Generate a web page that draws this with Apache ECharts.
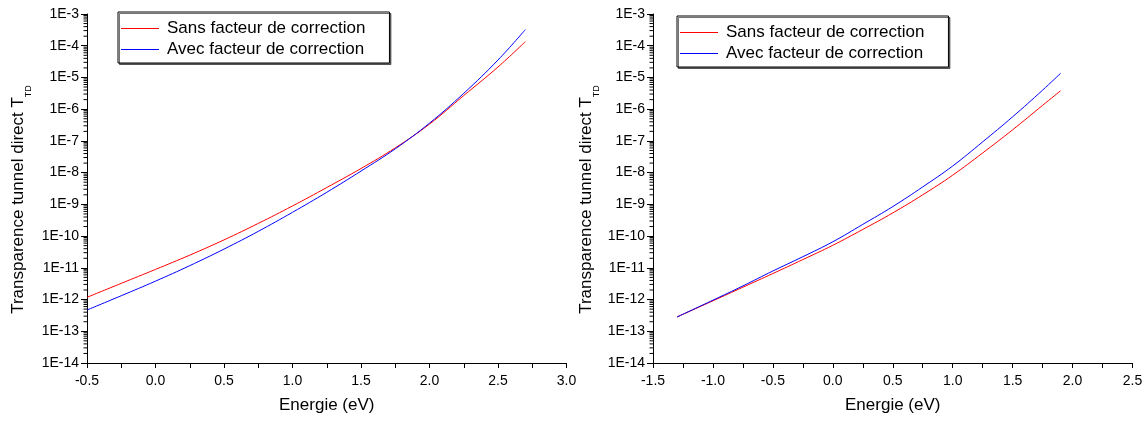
<!DOCTYPE html>
<html>
<head>
<meta charset="utf-8">
<script src="https://cdn.jsdelivr.net/npm/echarts@6/dist/echarts.min.js"></script>
<style>
html,body{margin:0;padding:0;background:#fff;}
#chart{width:1147px;height:423px;}
</style>
</head>
<body>
<div id="chart"></div>
<script>
// ---- Data ----
const seriesNames = ['Sans facteur de correction', 'Avec facteur de correction'];

// Left panel
const leftEnergy = [-0.5, -0.25, 0.0, 0.25, 0.5, 0.75, 1.0, 1.25, 1.5, 1.75, 2.0, 2.25, 2.5, 2.7];
const leftSans = [1.175e-12, 3.24e-12, 8.91e-12, 2.51e-11, 7.59e-11, 2.51e-10, 8.91e-10, 3.39e-9, 1.35e-8, 6.03e-8, 3.39e-7, 2.69e-6, 2.14e-5, 1.35e-4];
const leftAvec = [4.68e-13, 1.32e-12, 3.80e-12, 1.17e-11, 3.89e-11, 1.41e-10, 5.62e-10, 2.40e-9, 1.12e-8, 5.62e-8, 3.63e-7, 3.16e-6, 3.55e-5, 3.24e-4];

// Right panel
const rightEnergy = [-1.3, -1.0, -0.75, -0.5, -0.25, 0.0, 0.25, 0.5, 0.75, 1.0, 1.25, 1.5, 1.75, 1.9];
const rightSans = [2.82e-13, 9.12e-13, 2.45e-12, 6.61e-12, 1.82e-11, 5.13e-11, 1.62e-10, 5.37e-10, 2.00e-9, 8.32e-9, 4.17e-8, 2.24e-7, 1.32e-6, 3.80e-6];
const rightAvec = [2.82e-13, 9.55e-13, 2.69e-12, 7.94e-12, 2.24e-11, 6.61e-11, 2.34e-10, 8.51e-10, 3.55e-9, 1.62e-8, 9.33e-8, 5.75e-7, 3.98e-6, 1.35e-5];

// Axis ranges / labels
const leftXRange = [-0.5, 3.0];
const rightXRange = [-1.5, 2.5];
const yRange = [1e-14, 1e-3];
const yDecades = [-14, -3];
const logMinorSteps = [2, 3, 4, 5, 6, 7, 8, 9];
const xAxisTitle = 'Energie (eV)';
const yAxisTitleMain = 'Transparence tunnel direct T';
const yAxisTitleSub = 'TD';

// ---- Chart ----
const FONT = '"Liberation Sans", Arial, sans-serif';
const colors = ['#ff0000', '#0000ff'];

function pairs(xs, ys) { return xs.map((x, i) => [x, ys[i]]); }

// exponents of the logarithmic minor ticks (log10 of 2..9 × 10^d)
const minorTickExponents = [];
for (let d = yDecades[0]; d < yDecades[1]; d++) {
  logMinorSteps.forEach(k => minorTickExponents.push(d + Math.log10(k)));
}

function makeX(gridIndex, range) {
  return {
    type: 'value', gridIndex, min: range[0], max: range[1], interval: 0.5,
    name: xAxisTitle, nameLocation: 'middle', nameGap: 34,
    nameTextStyle: { fontFamily: FONT, fontSize: 17, color: '#000' },
    axisLine: { show: true, onZero: false, lineStyle: { color: '#000', width: 1 } },
    axisTick: { show: true, length: 5, lineStyle: { color: '#000' } },
    minorTick: { show: true, splitNumber: 2, length: 5, lineStyle: { color: '#000' } },
    splitLine: { show: false },
    axisLabel: { fontFamily: FONT, fontSize: 14, color: '#000', margin: 11,
      formatter: v => v.toFixed(1) }
  };
}

function makeY(gridIndex, gap) {
  return {
    type: 'log', logBase: 10, gridIndex, min: yRange[0], max: yRange[1], interval: 1,
    name: '{m|' + yAxisTitleMain + '}{s|' + yAxisTitleSub + '}',
    nameLocation: 'middle', nameGap: gap,
    nameTextStyle: {
      padding: [0, 22, 0, 0],
      rich: {
        m: { fontFamily: FONT, fontSize: 17, color: '#000', lineHeight: 30, verticalAlign: 'middle' },
        s: { fontFamily: FONT, fontSize: 9, color: '#000', lineHeight: 9, verticalAlign: 'bottom' }
      }
    },
    axisLine: { show: true, onZero: false, lineStyle: { color: '#000', width: 1 } },
    axisTick: { show: true, length: 6, lineStyle: { color: '#000' } },
    minorTick: { show: false },
    splitLine: { show: false },
    minorSplitLine: { show: false },
    axisLabel: { fontFamily: FONT, fontSize: 14, color: '#000', margin: 8,
      formatter: v => '1E' + Math.round(Math.log10(v)) }
  };
}

// hidden linear axis in exponent space, used only to place the log minor ticks
function makeExpY(gridIndex) {
  return {
    type: 'value', gridIndex, min: yDecades[0], max: yDecades[1], show: false,
    splitLine: { show: false }
  };
}

function makeLegend(left, top) {
  return {
    orient: 'vertical', left, top,
    data: seriesNames.map(n => ({ name: n, icon: 'rect' })),
    itemWidth: 38, itemHeight: 1, itemGap: 4,
    padding: [8, 24, 5, 3],
    borderColor: '#000', borderWidth: 1, borderRadius: 0,
    backgroundColor: '#fff',
    shadowColor: 'rgba(0,0,0,0.55)', shadowOffsetX: 1.5, shadowOffsetY: 1.5, shadowBlur: 0,
    textStyle: { fontFamily: FONT, fontSize: 17, color: '#000', lineHeight: 17, padding: [0, 0, 0, 3] },
    selectedMode: false
  };
}

function makeSeries(name, xi, data, color) {
  return {
    name, type: 'line', xAxisIndex: xi, yAxisIndex: xi, data,
    showSymbol: false, symbol: 'none', smooth: 0.4,
    lineStyle: { color, width: 1 }, itemStyle: { color },
    animation: false
  };
}

function makeMinorTicks(xi, xMin) {
  return {
    name: 'minorTicks' + xi, type: 'scatter', xAxisIndex: xi, yAxisIndex: xi + 2,
    data: minorTickExponents.map(e => [xMin, e]),
    symbol: 'rect', symbolSize: [3.5, 1], symbolOffset: [-1.75, 0],
    itemStyle: { color: '#000', opacity: 1 },
    clip: false, silent: true, z: 5, animation: false,
    emphasis: { disabled: true }, tooltip: { show: false }
  };
}

const chart = echarts.init(document.getElementById('chart'), null, { renderer: 'canvas' });
chart.setOption({
  animation: false,
  backgroundColor: '#fff',
  grid: [
    { left: 87, top: 14, width: 479.5, height: 349 },
    { left: 653, top: 14, width: 479.5, height: 349 }
  ],
  xAxis: [makeX(0, leftXRange), makeX(1, rightXRange)],
  yAxis: [makeY(0, 54), makeY(1, 52), makeExpY(0), makeExpY(1)],
  legend: [makeLegend(118, 12), makeLegend(677, 16)],
  series: [
    makeSeries(seriesNames[0], 0, pairs(leftEnergy, leftSans), colors[0]),
    makeSeries(seriesNames[1], 0, pairs(leftEnergy, leftAvec), colors[1]),
    makeSeries(seriesNames[0], 1, pairs(rightEnergy, rightSans), colors[0]),
    makeSeries(seriesNames[1], 1, pairs(rightEnergy, rightAvec), colors[1]),
    makeMinorTicks(0, leftXRange[0]),
    makeMinorTicks(1, rightXRange[0])
  ]
});
</script>
</body>
</html>
